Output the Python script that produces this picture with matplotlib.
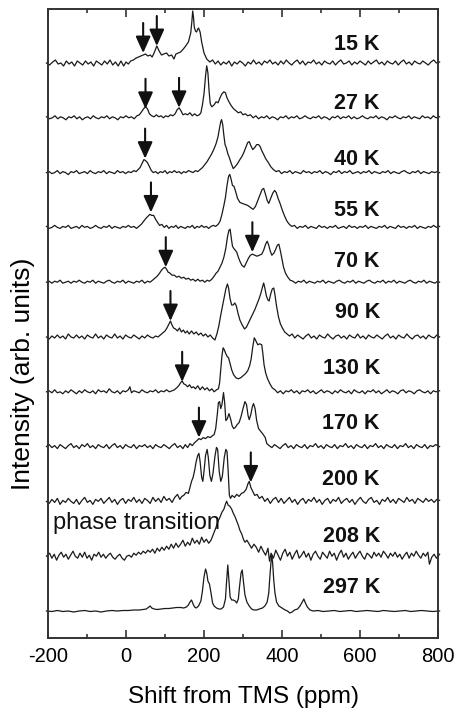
import matplotlib
matplotlib.use("Agg")
import matplotlib.pyplot as plt
from matplotlib.ticker import MultipleLocator

plt.rcParams["font.family"] = ["Liberation Sans", "DejaVu Sans"]

# Temperatures, top trace first
temperatures = ["15 K", "27 K", "40 K", "55 K", "70 K", "90 K",
                "130 K", "170 K", "200 K", "208 K", "297 K"]

# Spectra as (shift in ppm, intensity in arb. units) pairs
spec_15K = [(-204,0),(-196,-2),(-188,1),(-181,3),(-174,-1),(-167,0),(-160,-3),(-153,2),(-146,-1),(-139,1),(-132,-3),(-125,2),(-118,0),(-111,-2),(-104,2),(-97,-1),(-90,1),(-83,-3),(-76,2),(-69,0),(-62,-2),(-55,2),(-48,-1),(-41,3),(-34,-2),(-27,1),(-20,-3),(-13,2),(-6,-3),(0,1),(6,-1),(12,2),(19,3),(26,5),(32,6),(38,7),(44,8),(50,9),(56,7),(62,8),(67,6),(72,10),(79,17),(85,12),(91,8),(97,9),(104,10),(110,7),(117,8),(123,4),(128,9),(134,10),(140,11),(147,14),(153,17),(160,21),(166,30),(169,42),(171,52),(173,46),(175,36),(178,32),(181,31),(184,34),(186,35),(190,31),(194,21),(200,10),(207,4),(215,1),(222,3),(229,-1),(236,2),(243,-2),(250,1),(257,-1),(264,2),(271,-3),(278,1),(285,-1),(292,2),(299,0),(306,-3),(313,1),(320,-1),(327,3),(334,-1),(341,1),(348,-2),(355,2),(362,0),(369,3),(376,-1),(383,1),(390,-2),(397,2),(404,-1),(411,3),(418,0),(425,-2),(432,1),(439,3),(446,-1),(453,2),(460,-2),(467,1),(474,0),(481,3),(488,-1),(495,1),(502,-2),(509,2),(516,0),(523,-1),(530,2),(537,-2),(544,1),(551,3),(558,-1),(565,0),(572,2),(579,-2),(586,1),(593,-1),(600,2),(607,0),(614,-2),(621,2),(628,-1),(635,1),(642,3),(649,-1),(656,1),(663,-2),(670,2),(677,0),(684,-1),(691,2),(698,-2),(705,1),(712,3),(719,-1),(726,1),(733,-2),(740,2),(747,0),(754,-1),(761,2),(768,0),(775,-2),(782,1),(789,3),(796,0),(804,1)]

spec_27K = [(-204,1),(-196,-1),(-189,0),(-182,2),(-175,-1),(-168,1),(-161,0),(-154,-2),(-147,1),(-140,0),(-133,2),(-126,-1),(-119,1),(-112,-2),(-105,0),(-98,1),(-91,-1),(-84,2),(-77,0),(-70,-1),(-63,1),(-56,0),(-49,2),(-42,-1),(-35,1),(-28,0),(-21,-2),(-14,1),(-7,0),(0,2),(7,0),(14,1),(21,-1),(28,2),(34,3),(40,6),(45,9),(50,11),(55,9),(60,4),(66,2),(72,1),(78,3),(84,1),(90,2),(96,0),(102,2),(108,1),(114,3),(120,2),(126,4),(131,8),(136,10),(141,7),(146,3),(152,4),(158,3),(164,5),(170,2),(176,4),(182,2),(188,3),(192,5),(196,13),(200,24),(204,42),(207,52),(210,45),(213,27),(216,14),(220,11),(226,13),(231,16),(236,15),(241,20),(246,24),(251,26),(255,25),(259,20),(264,16),(270,12),(276,9),(282,7),(288,5),(294,6),(300,3),(306,4),(312,2),(319,3),(326,0),(333,2),(340,-1),(347,1),(354,0),(361,2),(368,-1),(375,1),(382,0),(389,-2),(396,1),(403,0),(410,2),(417,-1),(424,1),(431,0),(438,2),(445,-1),(452,0),(459,2),(466,0),(473,-1),(480,1),(487,0),(494,2),(501,-1),(508,1),(515,0),(522,-2),(529,1),(536,0),(543,2),(550,-1),(557,1),(564,0),(571,2),(578,-1),(585,1),(592,-1),(599,0),(606,2),(613,0),(620,-1),(627,1),(634,0),(641,2),(648,-1),(655,1),(662,0),(669,-2),(676,1),(683,0),(690,2),(697,0),(704,-1),(711,1),(718,0),(725,2),(732,-1),(739,1),(746,0),(753,-1),(760,2),(767,0),(774,1),(781,-1),(788,2),(795,0),(804,1)]

spec_40K = [(-204,0),(-197,1),(-190,-1),(-183,0),(-176,2),(-169,-1),(-162,1),(-155,0),(-148,-2),(-141,1),(-134,0),(-127,2),(-120,-1),(-113,0),(-106,1),(-99,-1),(-92,2),(-85,0),(-78,-1),(-71,1),(-64,0),(-57,2),(-50,-1),(-43,1),(-36,0),(-29,-1),(-22,2),(-15,0),(-8,1),(-1,-1),(6,1),(13,0),(20,2),(26,1),(31,3),(36,5),(41,9),(46,13),(50,12),(55,10),(60,6),(65,2),(70,0),(76,1),(82,-1),(88,1),(94,0),(100,2),(106,-1),(112,1),(118,0),(124,2),(130,0),(136,1),(142,-1),(148,1),(154,0),(160,2),(166,1),(172,0),(178,2),(184,1),(190,3),(196,5),(202,8),(208,11),(214,15),(220,19),(226,24),(231,29),(236,36),(240,45),(243,51),(245,53),(248,48),(251,37),(254,28),(257,25),(261,19),(265,15),(270,9),(275,4),(280,6),(286,9),(292,13),(297,16),(302,20),(308,26),(312,30),(316,31),(320,27),(325,23),(330,25),(335,28),(340,28),(344,26),(348,22),(352,19),(358,14),(365,10),(371,6),(378,3),(385,1),(392,2),(399,-1),(406,1),(413,0),(420,2),(427,-1),(434,1),(441,0),(448,-1),(455,2),(462,0),(469,1),(476,-1),(483,1),(490,0),(497,2),(504,-1),(511,1),(518,0),(525,-2),(532,1),(539,0),(546,2),(553,-1),(560,1),(567,0),(574,2),(581,-1),(588,0),(595,1),(602,-1),(609,1),(616,0),(623,2),(630,-1),(637,1),(644,0),(651,-1),(658,1),(665,0),(672,2),(679,-1),(686,1),(693,0),(700,-1),(707,1),(714,2),(721,0),(728,-1),(735,1),(742,0),(749,2),(756,-1),(763,1),(770,0),(777,-1),(784,1),(791,0),(798,1),(804,0)]

spec_55K = [(-204,1),(-197,-1),(-190,0),(-183,2),(-176,0),(-169,-1),(-162,1),(-155,0),(-148,2),(-141,-1),(-134,0),(-127,1),(-120,-1),(-113,2),(-106,0),(-99,1),(-92,-1),(-85,0),(-78,2),(-71,0),(-64,-1),(-57,1),(-50,0),(-43,2),(-36,-1),(-29,1),(-22,0),(-15,-1),(-8,1),(-1,0),(6,2),(13,0),(20,1),(27,-1),(33,1),(39,3),(45,6),(51,9),(56,11),(61,13),(66,12),(71,12),(76,8),(81,5),(86,2),(92,3),(98,0),(104,2),(110,-1),(116,1),(122,0),(128,2),(134,-1),(140,1),(146,0),(152,-1),(158,1),(164,0),(170,2),(176,-1),(182,1),(188,0),(194,2),(200,0),(206,1),(212,-1),(218,1),(224,2),(230,1),(236,3),(241,6),(246,13),(251,22),(255,30),(259,42),(263,51),(266,53),(269,49),(273,42),(277,41),(281,36),(286,29),(292,25),(298,24),(305,23),(312,22),(319,20),(326,18),(332,21),(338,27),(344,33),(349,38),(353,39),(357,34),(362,27),(366,24),(371,29),(376,34),(381,37),(385,35),(390,29),(395,24),(401,17),(407,11),(413,6),(419,3),(425,1),(432,2),(439,-1),(446,1),(453,0),(460,2),(467,-1),(474,1),(481,0),(488,-1),(495,2),(502,0),(509,1),(516,-1),(523,1),(530,0),(537,2),(544,-1),(551,0),(558,1),(565,-1),(572,2),(579,0),(586,1),(593,-1),(600,1),(607,0),(614,2),(621,-1),(628,1),(635,0),(642,-1),(649,1),(656,0),(663,2),(670,-1),(677,1),(684,0),(691,-1),(698,2),(705,0),(712,1),(719,-1),(726,1),(733,0),(740,2),(747,-1),(754,1),(761,0),(768,-1),(775,1),(782,0),(789,2),(796,0),(804,1)]

spec_70K = [(-204,0),(-197,1),(-190,-1),(-183,1),(-176,0),(-169,2),(-162,-1),(-155,0),(-148,1),(-141,-1),(-134,1),(-127,0),(-120,2),(-113,0),(-106,-1),(-99,1),(-92,0),(-85,2),(-78,-1),(-71,1),(-64,0),(-57,-1),(-50,1),(-43,2),(-36,0),(-29,-1),(-22,1),(-15,0),(-8,2),(-1,-1),(6,1),(13,0),(20,-1),(27,1),(34,0),(41,2),(48,-1),(55,1),(62,0),(68,2),(74,4),(80,6),(86,9),(91,12),(96,14),(100,15),(104,13),(108,10),(113,9),(118,7),(124,7),(130,5),(136,6),(142,4),(148,5),(154,3),(160,4),(166,2),(172,3),(178,1),(184,3),(190,1),(196,2),(202,0),(208,2),(214,1),(220,3),(226,6),(231,9),(236,11),(241,15),(246,19),(251,25),(256,34),(260,45),(264,52),(267,53),(270,44),(273,36),(276,34),(280,32),(284,30),(288,25),(292,21),(297,17),(303,15),(308,19),(314,24),(319,27),(324,28),(330,27),(336,26),(342,27),(348,28),(353,32),(358,38),(362,41),(366,37),(370,31),(374,27),(379,29),(384,33),(388,37),(392,38),(396,31),(400,23),(404,15),(409,9),(415,5),(421,2),(428,1),(435,-1),(442,1),(449,0),(456,2),(463,-1),(470,1),(477,0),(484,-1),(491,1),(498,0),(505,2),(512,-1),(519,1),(526,0),(533,-1),(540,1),(547,2),(554,0),(561,-1),(568,1),(575,0),(582,2),(589,-1),(596,1),(603,0),(610,-1),(617,1),(624,2),(631,0),(638,-1),(645,1),(652,0),(659,2),(666,-1),(673,1),(680,0),(687,2),(694,-1),(701,1),(708,0),(715,-1),(722,1),(729,2),(736,0),(743,-1),(750,1),(757,0),(764,2),(771,-1),(778,1),(785,0),(792,-1),(799,1),(804,0)]

spec_90K = [(-204,0),(-197,-2),(-190,1),(-183,-1),(-176,2),(-169,-1),(-162,1),(-155,-2),(-148,3),(-141,0),(-134,-1),(-127,2),(-120,-1),(-113,1),(-106,-2),(-99,2),(-92,0),(-85,-1),(-78,3),(-71,-1),(-64,1),(-57,-2),(-50,2),(-43,0),(-36,-1),(-29,3),(-22,-1),(-15,1),(-8,-2),(-1,2),(6,0),(13,-1),(20,2),(27,0),(34,-2),(41,1),(48,-1),(55,2),(62,0),(69,-1),(76,1),(82,0),(88,2),(94,4),(100,6),(105,9),(110,13),(114,16),(118,12),(122,9),(127,8),(132,6),(137,9),(142,5),(147,7),(152,4),(157,6),(162,3),(168,6),(174,3),(180,5),(186,2),(192,4),(198,1),(204,3),(210,0),(216,2),(222,-1),(228,-3),(233,3),(238,11),(243,22),(248,32),(252,40),(256,48),(260,53),(263,49),(267,38),(271,32),(275,32),(279,34),(283,31),(287,24),(292,17),(298,12),(304,8),(309,10),(314,14),(320,19),(326,24),(331,28),(336,33),(341,38),(346,44),(350,50),(353,54),(356,49),(360,41),(364,37),(367,36),(371,43),(375,48),(379,49),(382,42),(386,31),(391,20),(396,13),(401,9),(407,5),(413,3),(419,1),(426,3),(433,-1),(440,2),(447,0),(454,-2),(461,1),(468,3),(475,-1),(482,1),(489,-2),(496,2),(503,0),(510,-1),(517,3),(524,0),(531,-2),(538,1),(545,2),(552,-1),(559,1),(566,-2),(573,2),(580,0),(587,-1),(594,3),(601,-1),(608,1),(615,-2),(622,2),(629,0),(636,-1),(643,2),(650,0),(657,-2),(664,1),(671,3),(678,-1),(685,1),(692,-2),(699,2),(706,0),(713,-1),(720,3),(727,0),(734,-2),(741,1),(748,2),(755,-1),(762,1),(769,-2),(776,2),(783,0),(790,-1),(797,2),(804,0)]

spec_130K = [(-204,0),(-197,1),(-190,-1),(-183,2),(-176,-1),(-169,0),(-162,-2),(-155,1),(-148,-1),(-141,2),(-134,0),(-127,-2),(-120,1),(-113,-1),(-106,2),(-99,0),(-92,-1),(-85,1),(-78,-2),(-71,2),(-64,0),(-57,1),(-50,-1),(-43,3),(-36,0),(-29,-1),(-22,1),(-15,-2),(-8,1),(-1,0),(6,2),(10,5),(14,-1),(20,1),(27,0),(34,-1),(41,2),(48,0),(55,-1),(62,1),(69,0),(76,2),(83,-1),(90,1),(97,0),(104,2),(111,0),(118,1),(124,2),(130,4),(135,6),(140,9),(144,11),(148,8),(153,7),(158,5),(163,7),(168,4),(173,5),(178,3),(184,6),(190,2),(196,5),(202,2),(208,4),(214,1),(220,3),(226,0),(232,2),(237,3),(240,9),(243,22),(246,36),(249,44),(252,42),(256,38),(260,35),(263,34),(267,28),(271,22),(276,17),(282,14),(288,13),(294,14),(300,16),(306,18),(312,21),(317,26),(321,33),(325,45),(329,54),(333,51),(338,47),(343,48),(348,47),(351,38),(354,27),(358,19),(363,13),(369,8),(375,4),(382,2),(389,-1),(396,1),(403,-2),(410,1),(417,0),(424,2),(431,-1),(438,1),(445,-2),(452,1),(459,0),(466,2),(473,-1),(480,1),(487,-2),(494,0),(501,2),(508,-1),(515,1),(522,0),(529,-2),(536,1),(543,-1),(550,2),(557,0),(564,-1),(571,1),(578,-2),(585,2),(592,0),(599,-1),(606,1),(613,-2),(620,1),(627,0),(634,2),(641,-1),(648,1),(655,-2),(662,0),(669,2),(676,-1),(683,1),(690,0),(697,-2),(704,1),(711,2),(718,-1),(725,1),(732,0),(739,-2),(746,1),(753,2),(760,0),(767,-1),(774,1),(781,-2),(788,1),(795,0),(804,1)]

spec_170K = [(-204,0),(-197,2),(-190,-1),(-183,1),(-176,-2),(-169,2),(-162,0),(-155,-2),(-148,1),(-141,3),(-134,-1),(-127,1),(-120,-2),(-113,2),(-106,0),(-99,3),(-92,-1),(-85,1),(-78,-2),(-71,2),(-64,0),(-57,-1),(-50,2),(-43,-2),(-36,1),(-29,3),(-22,-1),(-15,1),(-8,-2),(-1,2),(6,0),(13,-1),(20,2),(27,-2),(34,1),(41,0),(48,2),(55,-1),(62,1),(69,-2),(76,2),(83,0),(90,-1),(97,2),(104,0),(111,-2),(118,1),(125,3),(132,-1),(139,1),(146,-2),(152,2),(158,-1),(164,3),(170,1),(176,4),(182,6),(187,8),(192,7),(198,9),(204,8),(210,10),(216,9),(222,11),(226,12),(230,18),(234,32),(237,44),(240,45),(243,38),(246,42),(250,54),(253,44),(256,26),(260,28),(264,33),(268,28),(272,21),(276,18),(280,19),(285,22),(290,24),(295,30),(300,38),(305,45),(309,42),(313,31),(316,27),(320,32),(324,40),(327,43),(331,38),(335,26),(340,18),(346,15),(352,12),(357,9),(361,3),(367,1),(374,-1),(381,2),(388,0),(395,-2),(402,1),(409,3),(416,-1),(423,1),(430,-2),(437,2),(444,0),(451,-1),(458,2),(465,-2),(472,1),(479,0),(486,3),(493,-1),(500,1),(507,-2),(514,2),(521,0),(528,-1),(535,2),(542,-2),(549,1),(556,0),(563,3),(570,-1),(577,1),(584,-2),(591,2),(598,0),(605,-1),(612,2),(619,-2),(626,1),(633,0),(640,3),(647,-1),(654,1),(661,-2),(668,2),(675,0),(682,-1),(689,2),(696,-2),(703,1),(710,0),(717,3),(724,-1),(731,1),(738,-2),(745,2),(752,0),(759,-1),(766,2),(773,-2),(780,1),(787,0),(794,2),(804,0)]

spec_200K = [(-204,0),(-197,-2),(-190,2),(-183,-1),(-176,3),(-169,-3),(-162,1),(-155,-1),(-148,3),(-141,0),(-134,-2),(-127,2),(-120,-3),(-113,1),(-106,4),(-99,-1),(-92,1),(-85,-3),(-78,2),(-71,0),(-64,3),(-57,-2),(-50,1),(-43,4),(-36,-1),(-29,2),(-22,-3),(-15,1),(-8,3),(-1,-2),(6,2),(13,0),(20,4),(27,-1),(34,2),(41,-2),(48,3),(55,1),(62,-2),(69,4),(76,0),(83,3),(90,-1),(97,5),(104,1),(111,3),(118,-1),(125,4),(132,7),(138,2),(143,5),(148,6),(154,9),(160,8),(164,14),(168,20),(172,24),(176,31),(180,40),(184,46),(187,48),(190,40),(194,24),(197,20),(200,30),(204,46),(208,52),(211,44),(215,26),(219,20),(223,28),(228,45),(232,54),(235,52),(239,30),(243,20),(247,25),(252,44),(256,52),(259,50),(262,30),(265,6),(268,3),(272,6),(278,4),(284,7),(290,5),(296,8),(302,9),(308,12),(313,18),(316,20),(320,14),(325,10),(330,6),(336,7),(342,3),(349,5),(356,0),(363,3),(370,-2),(377,2),(384,4),(391,-1),(398,3),(405,-2),(412,1),(419,4),(426,-1),(433,2),(440,-3),(447,1),(454,3),(461,-2),(468,2),(475,0),(482,4),(489,-1),(496,2),(503,-3),(510,1),(517,3),(524,-2),(531,2),(538,0),(545,4),(552,-2),(559,1),(566,3),(573,-1),(580,2),(587,-3),(594,1),(601,4),(608,0),(615,-2),(622,2),(629,4),(636,-1),(643,1),(650,-3),(657,2),(664,0),(671,4),(678,-1),(685,2),(692,-2),(699,3),(706,1),(713,-1),(720,4),(727,0),(734,2),(741,-2),(748,3),(755,1),(762,-1),(769,3),(776,0),(783,2),(790,-1),(797,2),(804,1)]

spec_208K = [(-204,0),(-196,3),(-190,-2),(-184,2),(-178,-4),(-172,1),(-166,4),(-160,-1),(-154,2),(-148,-3),(-142,1),(-136,5),(-130,0),(-124,-2),(-118,3),(-112,-1),(-106,4),(-100,-2),(-94,1),(-88,-4),(-82,2),(-76,0),(-70,4),(-64,-1),(-58,2),(-52,-2),(-46,1),(-40,3),(-34,-1),(-28,-3),(-22,0),(-16,2),(-10,-2),(-4,-4),(2,0),(8,1),(14,-1),(20,3),(26,1),(32,4),(38,2),(44,5),(50,3),(56,6),(62,4),(68,7),(74,3),(80,8),(86,5),(92,9),(98,6),(104,10),(110,7),(116,12),(122,8),(128,13),(134,9),(140,12),(146,16),(152,10),(158,14),(164,11),(170,18),(176,13),(182,16),(188,12),(194,19),(200,14),(206,17),(212,13),(218,16),(224,22),(230,28),(236,35),(241,39),(246,44),(251,47),(255,52),(258,55),(262,51),(266,50),(271,47),(275,43),(279,40),(284,35),(288,31),(292,26),(297,22),(301,17),(305,14),(310,16),(316,12),(322,8),(328,12),(334,9),(340,4),(346,10),(352,5),(358,1),(364,8),(368,-5),(372,3),(378,-2),(384,6),(390,1),(396,-4),(402,3),(408,7),(414,0),(420,4),(426,-3),(432,2),(438,6),(444,-2),(450,1),(456,5),(462,-1),(468,3),(474,-4),(480,2),(486,5),(492,0),(498,-3),(504,4),(510,1),(516,-2),(522,5),(528,0),(534,3),(540,-4),(546,2),(552,6),(558,-1),(564,3),(570,-3),(576,1),(582,4),(588,-2),(594,2),(600,5),(606,0),(612,-3),(618,3),(624,1),(630,-2),(636,4),(642,0),(648,3),(654,-1),(660,5),(666,2),(672,-2),(678,3),(684,0),(690,4),(696,-1),(702,2),(708,-3),(714,1),(720,4),(726,-2),(732,3),(738,0),(744,5),(750,1),(756,-2),(762,3),(768,0),(774,4),(778,-8),(784,-1),(790,2),(796,-2),(804,2)]

spec_297K = [(-204,0),(-190,-0.5),(-176,0.5),(-162,-0.5),(-148,0),(-134,-1),(-120,0),(-106,0.5),(-92,-0.5),(-78,0),(-64,-1),(-50,0),(-36,0.5),(-22,0),(-8,0.5),(6,0.5),(20,1),(34,1),(44,1.5),(52,2),(57,3.5),(62,5),(66,3),(72,2),(80,1.5),(90,2),(100,2.5),(110,2.5),(120,3),(130,3.5),(140,3.5),(148,3),(155,4),(160,6),(164,9),(168,11),(172,7),(176,4),(180,3),(186,5),(192,10),(196,20),(200,34),(204,42),(207,38),(210,30),(214,27),(218,18),(222,8),(226,5),(232,3),(238,2),(244,2),(250,4),(255,12),(258,30),(261,46),(264,30),(267,14),(271,11),(275,11),(280,10),(284,8),(288,12),(291,24),(295,38),(298,41),(301,30),(305,16),(310,9),(316,5),(322,2),(328,1),(335,1),(342,2),(350,3),(356,5),(362,9),(366,18),(369,35),(372,50),(374,56),(376,48),(379,30),(382,18),(386,9),(392,5),(400,3),(408,1),(414,0),(420,-2),(426,-1),(432,1),(440,2),(446,5),(452,9),(456,12),(460,8),(465,4),(472,1),(480,0),(492,0.5),(506,-0.5),(520,0),(534,0.5),(548,-0.5),(562,0),(576,0.5),(590,-0.5),(604,0),(618,0.5),(632,0),(646,-0.5),(660,0.5),(674,0),(688,-0.5),(702,0),(716,0.5),(730,-0.5),(744,0),(758,0.5),(772,0),(786,-0.5),(804,0)]

spectra = [spec_15K, spec_27K, spec_40K, spec_55K, spec_70K, spec_90K,
           spec_130K, spec_170K, spec_200K, spec_208K, spec_297K]

# Marked lines: trace temperature, shift (ppm), tip height above that trace
arrow_temps = ["15 K", "15 K", "27 K", "27 K", "40 K", "55 K", "70 K", "70 K",
               "90 K", "130 K", "170 K", "200 K"]
arrow_shift = [44, 79, 50, 136, 49, 64, 102, 324, 114, 144, 187, 320]
arrow_tip = [10, 17, 9, 10, 14, 15, 15, 30, 16, 10, 9, 19]

x_ticks = [-200, 0, 200, 400, 600, 800]

# vertical spacing between stacked traces and label lift above each trace
step = 54.8
label_lift = [18, 14.5, 13, 17, 21, 24, 23, 23, 22, 20, 23.5]

fig = plt.figure(figsize=(4.57, 7.14), dpi=100)
ax = fig.add_axes([48 / 457, 1 - 638 / 714, 390 / 457, 629 / 714])

n = len(spectra)
offsets = {}
for i, (temp, spec) in enumerate(zip(temperatures, spectra)):
    off = (n - 1 - i) * step
    offsets[temp] = off
    xs = [p[0] for p in spec]
    ys = [p[1] + off for p in spec]
    ax.plot(xs, ys, color="#1a1a1a", lw=0.9, clip_on=False)
    ax.text(651, off + label_lift[i], temp, ha="right", va="center",
            fontsize=15.5, fontweight="bold", color="#111111")

for temp, sx, tip in zip(arrow_temps, arrow_shift, arrow_tip):
    y0 = offsets[temp] + tip
    ax.annotate("", xy=(sx, y0), xytext=(sx, y0 + 30),
                arrowprops=dict(arrowstyle="-|>,head_length=1.0,head_width=0.45",
                                color="#111111", lw=1.5, shrinkA=0, shrinkB=0,
                                mutation_scale=10))

ax.text(-187, 88, "phase transition", ha="left", va="center",
        fontsize=17, color="#111111")

ax.set_xlim(-200, 800)
ax.set_ylim(-27, 602)
ax.set_xticks(x_ticks)
ax.set_xticklabels([str(t) for t in x_ticks])
ax.xaxis.set_minor_locator(MultipleLocator(100))
ax.set_yticks([])
ax.tick_params(axis="x", which="both", direction="in", top=True, bottom=True,
               width=1.2, color="#333333", labelsize=14.5, pad=6.4)
ax.tick_params(axis="x", which="major", length=6)
ax.tick_params(axis="x", which="minor", length=3)
for sp in ax.spines.values():
    sp.set_linewidth(1.4)
    sp.set_color("#333333")

ax.set_xlabel("Shift from TMS (ppm)", fontsize=17.5, va="center")
ax.xaxis.set_label_coords(0.5, -0.094)
ax.set_ylabel("Intensity (arb. units)", fontsize=19, va="center")
ax.yaxis.set_label_coords(-0.064, 0.42)

fig.savefig("out.png", dpi=100)
